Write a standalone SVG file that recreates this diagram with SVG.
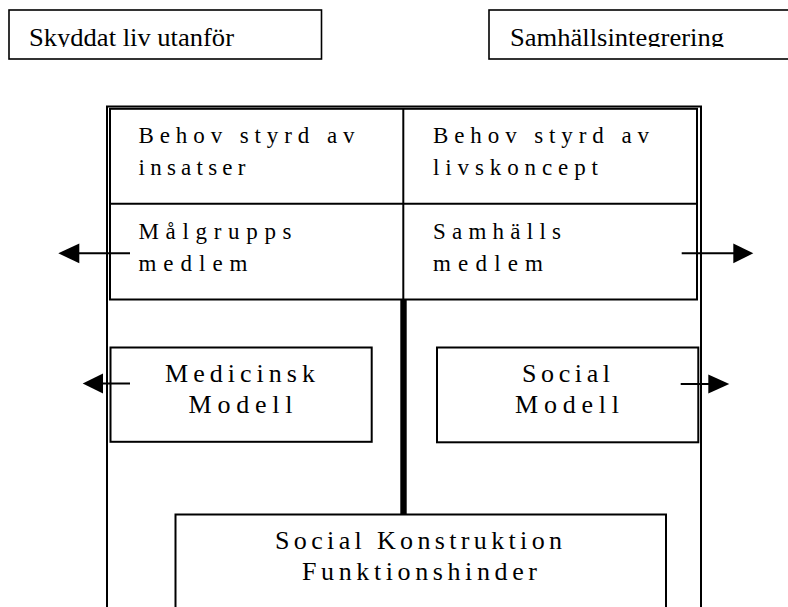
<svg xmlns="http://www.w3.org/2000/svg" width="788" height="607" viewBox="0 0 788 607">
<style>
  text { font-family: "Liberation Serif", "DejaVu Serif", "Noto Serif", "Times New Roman", Times, serif; fill: #000; }
  .top { font-size: 26px; }
  .cell { font-size: 23px; }
  .mid { font-size: 26px; text-anchor: middle; }
  .box { fill: #fff; stroke: #000; stroke-width: 2; }
  .thin { fill: none; stroke: #000; stroke-width: 1.6; }
  .line { fill: none; stroke: #000; stroke-width: 2; }
  .conn { stroke: #000; stroke-width: 2; fill: none; }
  .head { fill: #000; stroke: none; }
</style>
<defs>
  <clipPath id="clipTop"><rect x="0" y="0" width="788" height="47"/></clipPath>
</defs>
<rect width="788" height="607" fill="#fff"/>

<g id="skyddat">
  <rect class="thin" x="9" y="10" width="312.5" height="49"/>
  <text class="top" x="29" y="45.5" clip-path="url(#clipTop)" textLength="205" lengthAdjust="spacingAndGlyphs">Skyddat liv utanför</text>
</g>

<g id="samhallsintegrering">
  <rect class="thin" x="489" y="10" width="310" height="49"/>
  <text class="top" x="510" y="45.5" clip-path="url(#clipTop)" textLength="214" lengthAdjust="spacingAndGlyphs">Samhällsintegrering</text>
</g>

<g id="frame">
  <path class="line" d="M107,610 V106.5 H701 V610"/>
  <rect class="line" x="110" y="108.8" width="587" height="190.7"/>
  <line class="line" x1="110" y1="203.8" x2="697" y2="203.8"/>
  <line class="line" x1="403.3" y1="108.8" x2="403.3" y2="299.5"/>
  <rect x="400.3" y="299.5" width="6.4" height="215" fill="#000"/>
</g>

<g id="behov-insatser">
  <text class="cell" x="138.5" y="143" textLength="216" lengthAdjust="spacing">Behov styrd av</text>
  <text class="cell" x="138.5" y="175" textLength="107" lengthAdjust="spacing">insatser</text>
</g>

<g id="behov-livskoncept">
  <text class="cell" x="433" y="143" textLength="216" lengthAdjust="spacing">Behov styrd av</text>
  <text class="cell" x="433" y="175" textLength="165" lengthAdjust="spacing">livskoncept</text>
</g>

<g id="malgrupps">
  <text class="cell" x="138.5" y="239" textLength="153" lengthAdjust="spacing">Målgrupps</text>
  <text class="cell" x="138.5" y="270.5" textLength="109" lengthAdjust="spacing">medlem</text>
</g>

<g id="samhalls">
  <text class="cell" x="433" y="239" textLength="128" lengthAdjust="spacing">Samhälls</text>
  <text class="cell" x="433" y="270.5" textLength="110" lengthAdjust="spacing">medlem</text>
</g>

<g id="medicinsk">
  <rect class="box" x="110.5" y="347.5" width="261.2" height="94.3"/>
  <text class="mid" x="240" y="381.7" textLength="150" lengthAdjust="spacing">Medicinsk</text>
  <text class="mid" x="240.5" y="412.7" textLength="104" lengthAdjust="spacing">Modell</text>
</g>

<g id="social">
  <rect class="box" x="437" y="347.5" width="261.3" height="94.8"/>
  <text class="mid" x="566" y="381.7" textLength="88" lengthAdjust="spacing">Social</text>
  <text class="mid" x="567" y="412.7" textLength="104" lengthAdjust="spacing">Modell</text>
</g>

<g id="social-konstruktion">
  <rect class="box" x="175.5" y="514.5" width="490.5" height="100"/>
  <text class="mid" x="418.5" y="549" textLength="287" lengthAdjust="spacing">Social Konstruktion</text>
  <text class="mid" x="419.5" y="580" textLength="235" lengthAdjust="spacing">Funktionshinder</text>
</g>

<g id="connectors">
  <line class="conn" x1="130" y1="253.3" x2="78" y2="253.3"/>
  <polygon class="head" points="58.3,253.3 79.3,243.5 79.3,263.3"/>
  <line class="conn" x1="681.7" y1="253.3" x2="734" y2="253.3"/>
  <polygon class="head" points="753.3,253.3 733.3,243.5 733.3,263.3"/>
  <line class="conn" x1="130" y1="383.5" x2="102" y2="383.5"/>
  <polygon class="head" points="82.7,383.5 103,373.5 103,393.5"/>
  <line class="conn" x1="680.7" y1="384" x2="709" y2="384"/>
  <polygon class="head" points="729.3,384 708.3,374.5 708.3,393.5"/>
</g>
</svg>
